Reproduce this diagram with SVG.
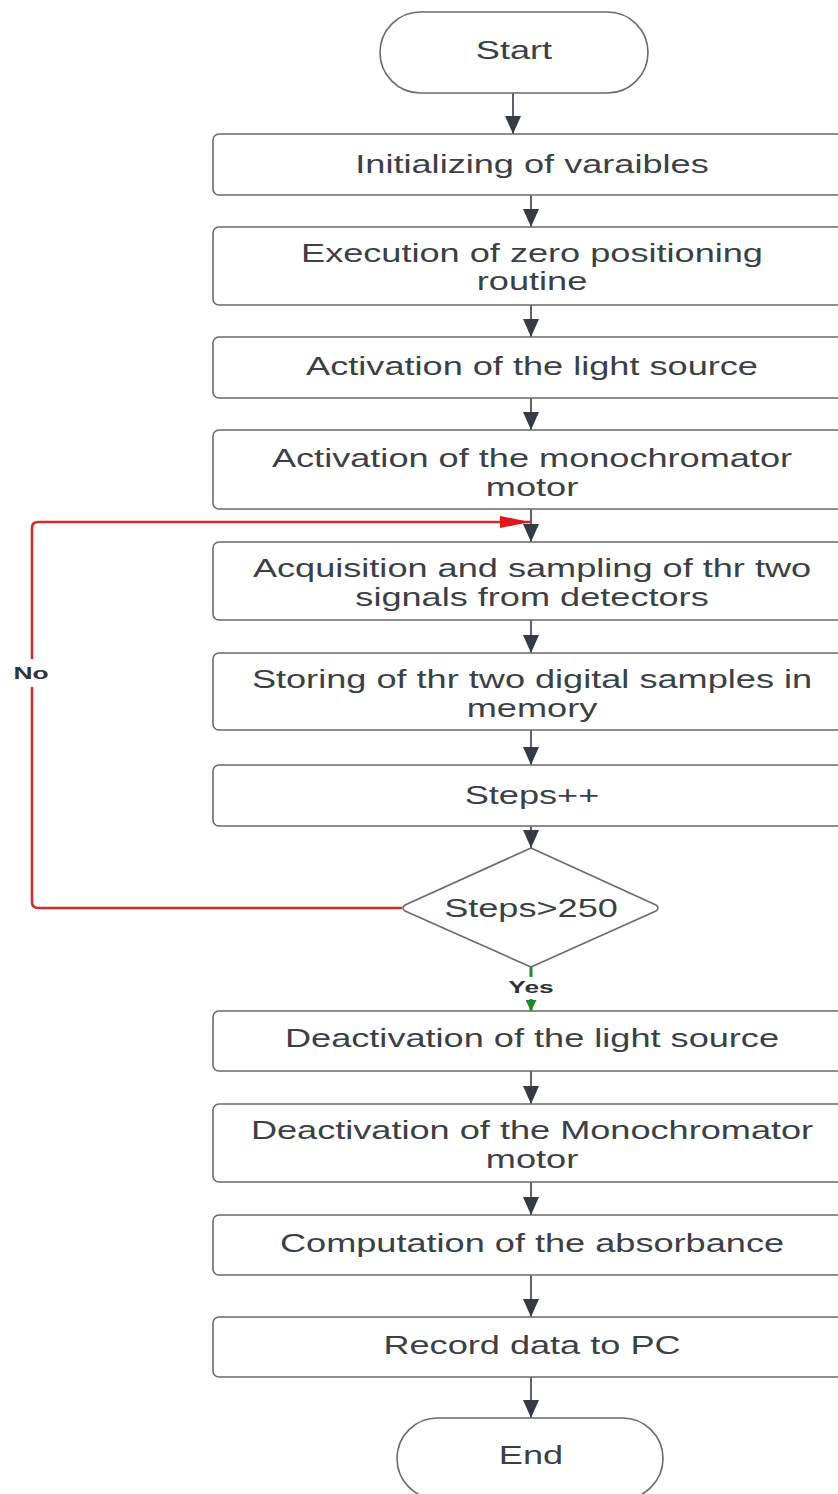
<svg xmlns="http://www.w3.org/2000/svg" width="838" height="1494" viewBox="0 0 838 1494">
<style>
.box{fill:#ffffff;stroke:#6a6a6a;stroke-width:1.6}
.t{font-family:"Liberation Sans",Arial,sans-serif;font-size:26px;fill:#3b3f46;text-anchor:middle;dominant-baseline:central}
.lbl{font-family:"Liberation Sans",Arial,sans-serif;font-size:17px;font-weight:bold;fill:#2f333a;text-anchor:middle;dominant-baseline:central}
.arr{fill:none;stroke:#353b45;stroke-width:1.6;marker-end:url(#ah)}
.red{fill:none;stroke:#d42a2a;stroke-width:2.6;marker-end:url(#ahr)}
.grn{fill:none;stroke:#1f8a2a;stroke-width:3;marker-end:url(#ahg)}
</style>
<defs>
<marker id="ah" viewBox="0 0 18 16" refX="18" refY="8" markerWidth="18" markerHeight="16" markerUnits="userSpaceOnUse" orient="auto"><path d="M0,0 L18,8 L0,16 z" fill="#353b45"/></marker>
<marker id="ahr" viewBox="0 0 30 12" refX="30" refY="6" markerWidth="30" markerHeight="12" markerUnits="userSpaceOnUse" orient="auto"><path d="M0,0 L30,6 L0,12 z" fill="#e01818"/></marker>
<marker id="ahg" viewBox="0 0 11 11" refX="11" refY="5.5" markerWidth="11" markerHeight="11" markerUnits="userSpaceOnUse" orient="auto"><path d="M0,0 L11,5.5 L0,11 z" fill="#1f8a2a"/></marker>
</defs>
<rect width="838" height="1494" fill="#ffffff"/>

<g id="connectors">
<line class="arr" x1="513" y1="93" x2="513" y2="134"/>
<line class="arr" x1="531" y1="195" x2="531" y2="227"/>
<line class="arr" x1="531" y1="305" x2="531" y2="337"/>
<line class="arr" x1="531" y1="398" x2="531" y2="430"/>
<line class="arr" x1="531" y1="509" x2="531" y2="542"/>
<line class="arr" x1="531" y1="620" x2="531" y2="653"/>
<line class="arr" x1="531" y1="730" x2="531" y2="765"/>
<line class="arr" x1="531" y1="826" x2="531" y2="848"/>
<line class="arr" x1="531" y1="1071" x2="531" y2="1104"/>
<line class="arr" x1="531" y1="1182" x2="531" y2="1215"/>
<line class="arr" x1="531" y1="1275" x2="531" y2="1317"/>
<line class="arr" x1="531" y1="1377" x2="531" y2="1418"/>
<path class="red" d="M402,908 H38 Q32,908 32,902 V528 Q32,522 38,522 H530"/>
<rect x="10" y="659" width="44" height="28" fill="#ffffff"/>
<text class="lbl" transform="translate(31,673) scale(1.55,1)">No</text>
<path class="grn" d="M531,967 V1011"/>
<rect x="500" y="977" width="62" height="22" fill="#ffffff"/>
<text class="lbl" transform="translate(531,987) scale(1.55,1)">Yes</text>
</g>

<g id="start">
<rect class="box" x="380" y="12" width="268" height="81" rx="40.5"/>
<text class="t" transform="translate(514,50) scale(1.39,1)">Start</text>
</g>
<g id="init">
<rect class="box" x="213" y="134" width="640" height="61" rx="6"/>
<text class="t" transform="translate(532,164) scale(1.39,1)">Initializing of varaibles</text>
</g>
<g id="zero">
<rect class="box" x="213" y="227" width="640" height="78" rx="6"/>
<text class="t" transform="translate(532,253) scale(1.39,1)">Execution of zero positioning</text>
<text class="t" transform="translate(532,281) scale(1.39,1)">routine</text>
</g>
<g id="light_on">
<rect class="box" x="213" y="337" width="640" height="61" rx="6"/>
<text class="t" transform="translate(532,366) scale(1.39,1)">Activation of the light source</text>
</g>
<g id="motor_on">
<rect class="box" x="213" y="430" width="640" height="79" rx="6"/>
<text class="t" transform="translate(532,458) scale(1.39,1)">Activation of the monochromator</text>
<text class="t" transform="translate(532,487) scale(1.39,1)">motor</text>
</g>
<g id="acquire">
<rect class="box" x="213" y="542" width="640" height="78" rx="6"/>
<text class="t" transform="translate(532,568) scale(1.39,1)">Acquisition and sampling of thr two</text>
<text class="t" transform="translate(532,597) scale(1.39,1)">signals from detectors</text>
</g>
<g id="store">
<rect class="box" x="213" y="653" width="640" height="77" rx="6"/>
<text class="t" transform="translate(532,679) scale(1.39,1)">Storing of thr two digital samples in</text>
<text class="t" transform="translate(532,708) scale(1.39,1)">memory</text>
</g>
<g id="steps">
<rect class="box" x="213" y="765" width="640" height="61" rx="6"/>
<text class="t" transform="translate(532,795) scale(1.39,1)">Steps++</text>
</g>
<g id="decision">
<path class="box" d="M531,848 L656,905 Q660,908 656,911 L531,967 L405,911 Q401,908 405,905 Z" stroke-linejoin="round"/>
<text class="t" transform="translate(531,908) scale(1.39,1)">Steps&gt;250</text>
</g>
<g id="light_off">
<rect class="box" x="213" y="1011" width="640" height="60" rx="6"/>
<text class="t" transform="translate(532,1038) scale(1.39,1)">Deactivation of the light source</text>
</g>
<g id="motor_off">
<rect class="box" x="213" y="1104" width="640" height="78" rx="6"/>
<text class="t" transform="translate(532,1130) scale(1.39,1)">Deactivation of the Monochromator</text>
<text class="t" transform="translate(532,1159) scale(1.39,1)">motor</text>
</g>
<g id="absorbance">
<rect class="box" x="213" y="1215" width="640" height="60" rx="6"/>
<text class="t" transform="translate(532,1243) scale(1.39,1)">Computation of the absorbance</text>
</g>
<g id="record">
<rect class="box" x="213" y="1317" width="640" height="60" rx="6"/>
<text class="t" transform="translate(532,1345) scale(1.39,1)">Record data to PC</text>
</g>
<g id="end">
<rect class="box" x="397" y="1418" width="266" height="81" rx="40.5"/>
<text class="t" transform="translate(531,1455) scale(1.39,1)">End</text>
</g>
</svg>
